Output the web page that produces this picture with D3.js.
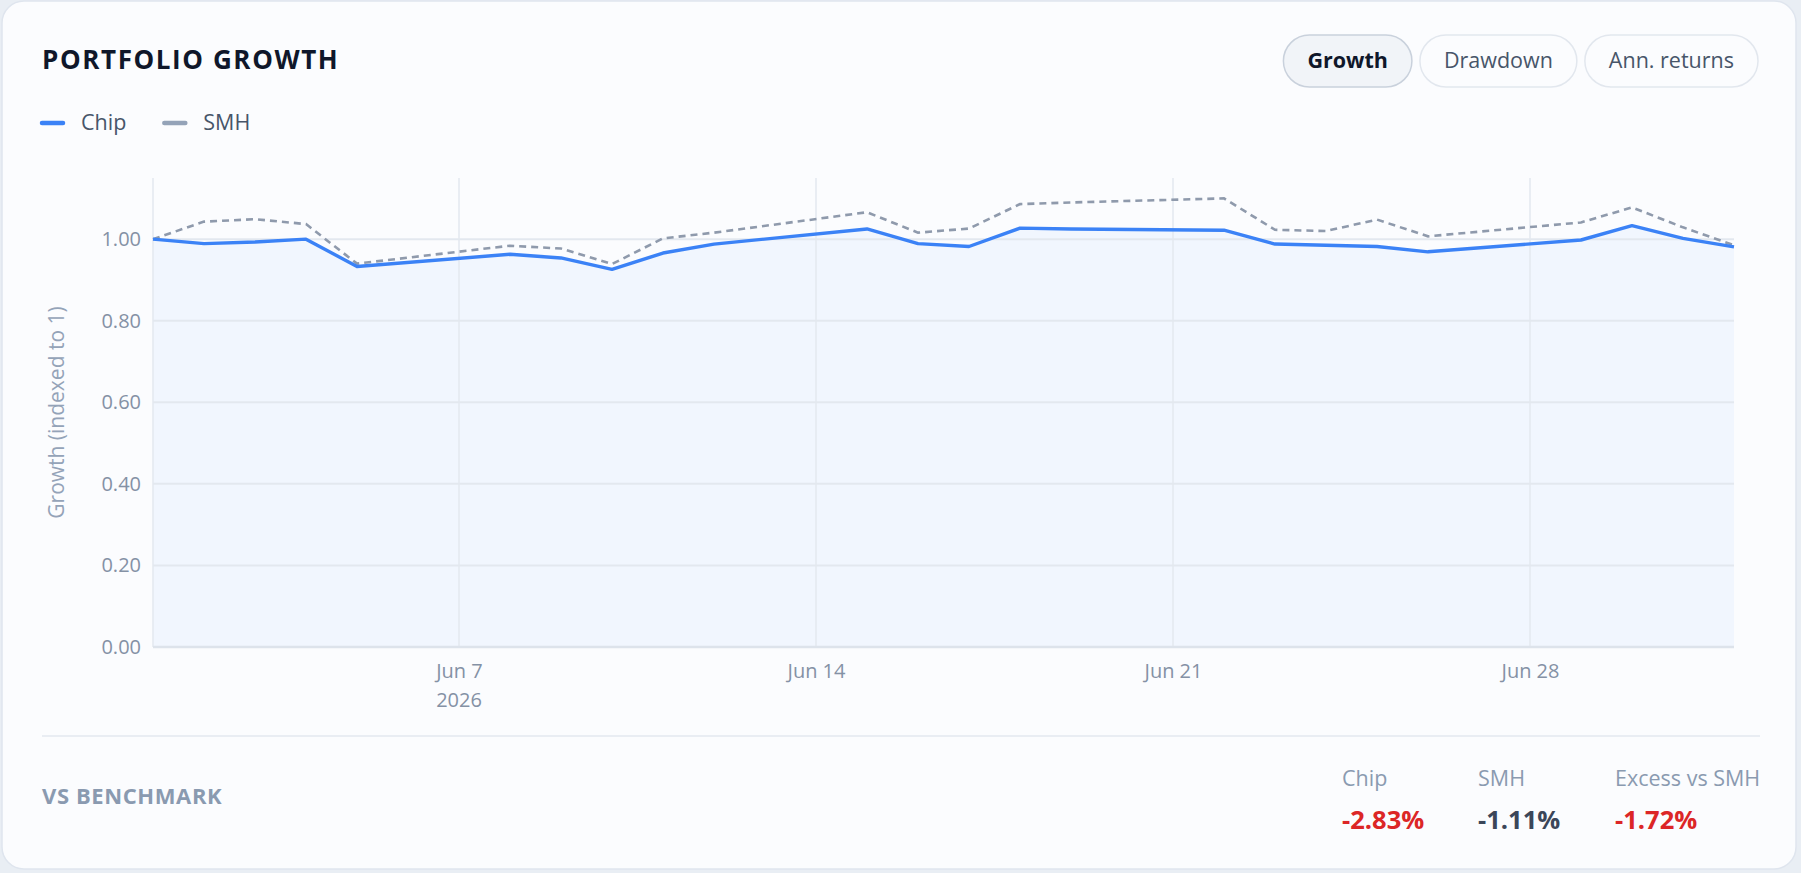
<!DOCTYPE html>
<html lang="en">
<head>
  <meta charset="UTF-8">
  <title>Portfolio Growth</title>
  <script src="https://d3js.org/d3.v7.min.js"></script>
  <style>
    html, body { margin: 0; padding: 0; background: #e9eef4; }
    svg { display: block; font-family: "Open Sans", "Noto Sans", sans-serif; }
    .grid line { stroke: #e3e8ef; }
    .tick-label { fill: #8491a5; font-size: 20px; }
  </style>
</head>
<body>
  <script>
    // Trading days, growth indexed to 1
    const dates = ["2026-06-01","2026-06-02","2026-06-03","2026-06-04","2026-06-05",
      "2026-06-08","2026-06-09","2026-06-10","2026-06-11","2026-06-12",
      "2026-06-15","2026-06-16","2026-06-17","2026-06-18","2026-06-19",
      "2026-06-22","2026-06-23","2026-06-24","2026-06-25","2026-06-26",
      "2026-06-29","2026-06-30","2026-07-01","2026-07-02"];
    const chip = [1.000, 0.989, 0.993, 1.000, 0.933, 0.963, 0.954, 0.926, 0.966, 0.988,
      1.025, 0.989, 0.982, 1.027, 1.025, 1.022, 0.988, 0.985, 0.982, 0.969,
      0.998, 1.033, 1.002, 0.981];
    const smh = [1.000, 1.043, 1.049, 1.037, 0.940, 0.984, 0.977, 0.939, 1.002, 1.016,
      1.066, 1.016, 1.026, 1.086, 1.090, 1.100, 1.023, 1.020, 1.048, 1.007,
      1.041, 1.078, 1.029, 0.985];
    const yTicks = [0, 0.2, 0.4, 0.6, 0.8, 1.0];
    const legendItems = ["Chip", "SMH"];
    const buttons = ["Growth", "Drawdown", "Ann. returns"];
    const statLabels = ["Chip", "SMH", "Excess vs SMH"];
    const statValues = ["-2.83%", "-1.11%", "-1.72%"];

    const width = 1801, height = 873;
    const plot = { left: 153, right: 1734, top: 178, bottom: 647 };
    const parse = d3.timeParse("%Y-%m-%d");
    const data = dates.map((d, i) => ({ date: parse(d), chip: chip[i], smh: smh[i] }));

    const svg = d3.select("body").append("svg")
      .attr("width", width)
      .attr("height", height);

    // card
    svg.append("rect")
      .attr("x", 2).attr("y", 1).attr("width", 1794).attr("height", 868)
      .attr("rx", 22)
      .attr("fill", "#fbfcfe").attr("stroke", "#dfe5ee").attr("stroke-width", 1.5);

    // title
    svg.append("text")
      .attr("x", 42).attr("y", 69)
      .attr("font-size", 26).attr("font-weight", 700)
      .attr("letter-spacing", 1.6)
      .attr("fill", "#0f172a")
      .text("PORTFOLIO GROWTH");

    // legend
    const legendColors = ["#3b82f6", "#94a3b8"];
    let lx = 42;
    legendItems.forEach((name, i) => {
      svg.append("line")
        .attr("x1", lx).attr("x2", lx + 21).attr("y1", 123).attr("y2", 123)
        .attr("stroke", legendColors[i]).attr("stroke-width", 4.5).attr("stroke-linecap", "round");
      const t = svg.append("text")
        .attr("x", lx + 39).attr("y", 130)
        .attr("font-size", 21.5).attr("fill", "#475569")
        .text(name);
      lx += 39 + t.node().getComputedTextLength() + 38;
    });

    // toggle buttons, laid out from the right edge
    const btnG = svg.append("g");
    const btnNodes = buttons.map((b, i) => {
      const g = btnG.append("g");
      const t = g.append("text")
        .attr("y", 68)
        .attr("text-anchor", "middle")
        .attr("font-size", 21.5)
        .attr("font-weight", i === 0 ? 700 : 500)
        .attr("fill", i === 0 ? "#0f172a" : "#475569")
        .text(b);
      return { g, t, w: t.node().getComputedTextLength() + 48 };
    });
    let bx = 1758;
    for (let i = btnNodes.length - 1; i >= 0; i--) {
      const n = btnNodes[i];
      const x0 = bx - n.w;
      n.g.insert("rect", "text")
        .attr("x", x0).attr("y", 35).attr("width", n.w).attr("height", 52)
        .attr("rx", 26)
        .attr("fill", i === 0 ? "#f1f4f8" : "#fbfcfe")
        .attr("stroke", i === 0 ? "#c9d1dc" : "#e2e7ee")
        .attr("stroke-width", 1.5);
      n.t.attr("x", x0 + n.w / 2);
      bx = x0 - 8;
    }

    // scales
    const x = d3.scaleTime()
      .domain([parse("2026-06-01"), parse("2026-07-02")])
      .range([plot.left, plot.right]);
    const y = d3.scaleLinear()
      .domain([0, 1.15])
      .range([plot.bottom, plot.top]);

    // area under Chip
    svg.append("path")
      .datum(data)
      .attr("fill", "#3b82f6").attr("fill-opacity", 0.05)
      .attr("d", d3.area().x(d => x(d.date)).y0(y(0)).y1(d => y(d.chip)));

    // grid
    const xTicks = x.ticks(d3.timeSunday.every(1));
    const grid = svg.append("g").attr("class", "grid");
    grid.selectAll(".v")
      .data([x.domain()[0], ...xTicks])
      .join("line")
      .attr("x1", d => x(d)).attr("x2", d => x(d))
      .attr("y1", plot.top).attr("y2", plot.bottom)
      .attr("stroke-width", 1.5);
    grid.selectAll(".h")
      .data(yTicks)
      .join("line")
      .attr("x1", plot.left).attr("x2", plot.right)
      .attr("y1", d => y(d)).attr("y2", d => y(d))
      .attr("stroke-width", d => d === 0 ? 2.5 : 2)
      .style("stroke", d => d === 0 ? "#dde3eb" : null);

    // y axis
    const yAxis = svg.append("g")
      .attr("transform", `translate(${plot.left},0)`)
      .call(d3.axisLeft(y).tickValues(yTicks).tickFormat(d3.format(".2f")).tickSize(0).tickPadding(12))
      .attr("font-family", null).attr("font-size", null);
    yAxis.select(".domain").remove();
    yAxis.selectAll("text").attr("class", "tick-label");

    svg.append("text")
      .attr("transform", `translate(57,${(plot.top + plot.bottom) / 2}) rotate(-90)`)
      .attr("text-anchor", "middle")
      .attr("dy", "0.35em")
      .attr("font-size", 21).attr("fill", "#94a3b8")
      .text("Growth (indexed to 1)");

    // x axis
    const xAxis = svg.append("g")
      .attr("transform", `translate(0,${plot.bottom})`)
      .call(d3.axisBottom(x).tickValues(xTicks).tickFormat(d3.timeFormat("%b %-d")).tickSize(0).tickPadding(17))
      .attr("font-family", null).attr("font-size", null);
    xAxis.select(".domain").remove();
    xAxis.selectAll("text").attr("class", "tick-label");
    svg.append("text")
      .attr("class", "tick-label")
      .attr("x", x(xTicks[0])).attr("y", 707)
      .attr("text-anchor", "middle")
      .text(d3.timeFormat("%Y")(xTicks[0]));

    // lines
    svg.append("path")
      .datum(data)
      .attr("fill", "none").attr("stroke", "#8f9aac").attr("stroke-width", 2.6)
      .attr("stroke-dasharray", "7,5")
      .attr("d", d3.line().x(d => x(d.date)).y(d => y(d.smh)));
    svg.append("path")
      .datum(data)
      .attr("fill", "none").attr("stroke", "#3b82f6").attr("stroke-width", 3.4)
      .attr("stroke-linejoin", "round")
      .attr("d", d3.line().x(d => x(d.date)).y(d => y(d.chip)));

    // footer
    svg.append("line")
      .attr("x1", 42).attr("x2", 1760).attr("y1", 736).attr("y2", 736)
      .attr("stroke", "#e3e8ef").attr("stroke-width", 1.5);
    svg.append("text")
      .attr("x", 42).attr("y", 804)
      .attr("font-size", 22).attr("font-weight", 700).attr("letter-spacing", 0.6)
      .attr("fill", "#8a9ab0")
      .text("VS BENCHMARK");

    const statX = [1342, 1478, 1615];
    statLabels.forEach((lab, i) => {
      svg.append("text")
        .attr("x", statX[i]).attr("y", 786)
        .attr("font-size", 21.5).attr("fill", "#8a9ab0")
        .text(lab);
      const v = parseFloat(statValues[i]);
      svg.append("text")
        .attr("x", statX[i]).attr("y", 829)
        .attr("font-size", 25.5).attr("font-weight", 700)
        .attr("fill", i === 1 ? "#3b4659" : (v < 0 ? "#dc2626" : "#16a34a"))
        .text(statValues[i]);
    });
  </script>
</body>
</html>
